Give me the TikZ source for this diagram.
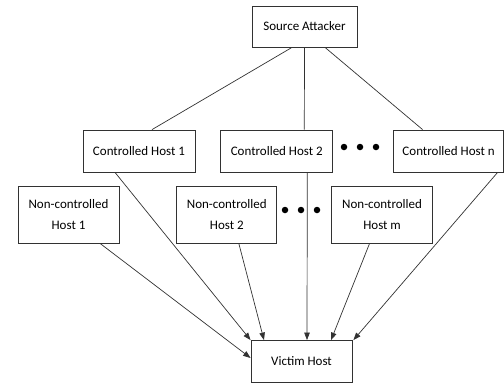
\documentclass[tikz,border=0pt]{standalone}
\usepackage{fontspec}
\setmainfont{Carlito}
\usetikzlibrary{arrows.meta,positioning}
\definecolor{linegray}{RGB}{50,50,50}

\begin{document}
\begin{tikzpicture}[x=1pt, y=-1pt, node distance=25pt,
  host/.style={rectangle, draw=linegray, line width=0.8pt, fill=white,
               inner sep=0pt, align=center,
               font=\fontsize{13}{21.5}\selectfont},
  chost/.style={host, minimum width=112pt, minimum height=42pt},
  nhost/.style={host, minimum width=101pt, minimum height=57pt},
  link/.style={linegray, line width=0.7pt},
  arr/.style={->, >={Triangle[length=7.5pt,width=5.5pt]}, linegray, line width=0.7pt},
  dot/.style={circle, fill=black, inner sep=0pt, minimum size=6.5pt}
]
  \useasboundingbox (0,0) rectangle (504,383);

  \node[host, minimum width=105pt, minimum height=41pt] (src) at (304.5,26.5) {Source Attacker};

  \node[chost] (ch1) at (139,151) {Controlled Host 1};
  \node[chost, right=25pt of ch1] (ch2) {Controlled Host 2};
  \node[chost, minimum width=110pt, right=60pt of ch2] (chn) {Controlled Host n};

  \node[nhost] (nc1) at (68.5,214.5) {Non-controlled\\Host 1};
  \node[nhost, minimum width=100pt, right=57pt of nc1] (nc2) {Non-controlled\\Host 2};
  \node[nhost, right=54pt of nc2] (ncm) {Non-controlled\\Host m};

  \node[host, minimum width=101pt, minimum height=42pt] (vic) at (301.5,361.5) {Victim Host};

  % ellipses between hosts
  \node[dot] (d1) at (344,147) {};
  \node[dot] (d2) at (360,147) {};
  \node[dot] (d3) at (376,147) {};
  \node[dot] (e1) at (285,210) {};
  \node[dot] (e2) at (301,210) {};
  \node[dot] (e3) at (317,210) {};

  \draw[link] ([xshift=-12.5pt]src.south) -- ([xshift=13pt]ch1.north);
  \draw[link] (src.south) -- ([xshift=27.5pt]ch2.north);
  \draw[link] ([xshift=20.5pt]src.south) -- ([xshift=-26pt]chn.north);

  \draw[arr] ([xshift=31.5pt]nc1.south) -- ([yshift=3.5pt]vic.west);
  \draw[arr] ([xshift=-24pt]ch1.south) -- (vic.north west);
  \draw[arr] ([xshift=12pt]nc2.south) -- ([xshift=-37.5pt]vic.north);
  \draw[arr] ([xshift=30.5pt]ch2.south) -- ([xshift=5.5pt]vic.north);
  \draw[arr] ([xshift=-12.5pt]ncm.south) -- ([xshift=29.5pt]vic.north);
  \draw[arr] ([xshift=49pt]chn.south) -- ([xshift=1pt]vic.north east);
\end{tikzpicture}
\end{document}
